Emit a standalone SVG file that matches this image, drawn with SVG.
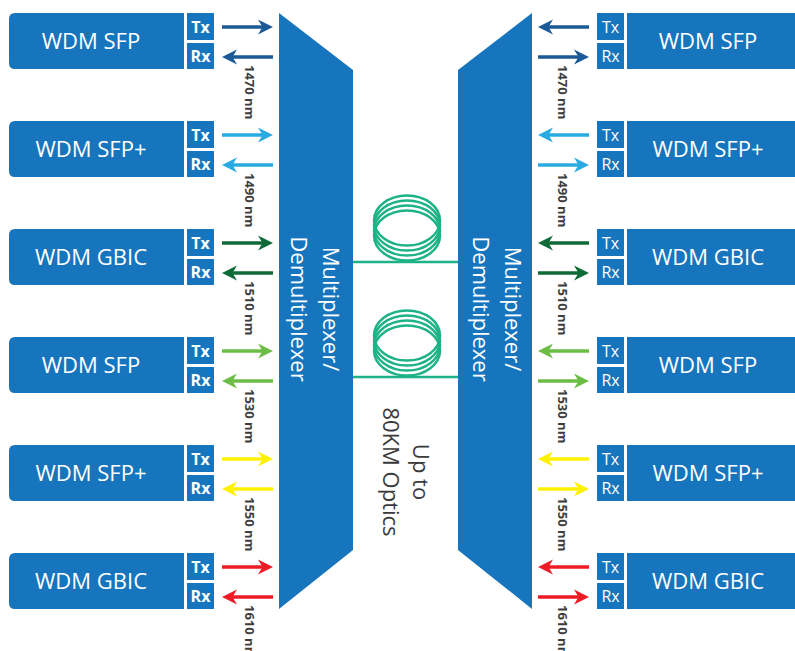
<svg xmlns="http://www.w3.org/2000/svg" width="795" height="651" viewBox="0 0 795 651">
<style>
.blue{fill:#1675bc}
.name{font-family:"Open Sans","Liberation Sans",sans-serif;font-size:22px;fill:#ffffff;text-anchor:middle}
.txl{font-family:"Open Sans","Liberation Sans",sans-serif;font-size:16px;font-weight:bold;fill:#ffffff;text-anchor:middle}
.txr{font-family:"Open Sans","Liberation Sans",sans-serif;font-size:16px;fill:#ffffff;text-anchor:middle}
.wl{font-family:"Open Sans","Liberation Sans",sans-serif;font-size:13px;font-weight:bold;fill:#3d3d3d}
.mux{font-family:"Open Sans","Liberation Sans",sans-serif;font-size:22px;fill:#ffffff;text-anchor:middle}
.dist{font-family:"Open Sans","Liberation Sans",sans-serif;font-size:22px;fill:#3a3a3a;text-anchor:middle}
.coil{fill:none;stroke:#1db386;stroke-width:2.5}
.shaft{stroke-width:3.5;fill:none}
.c1{stroke:#1b5a96;fill:#1b5a96}
.c2{stroke:#29abe2;fill:#29abe2}
.c3{stroke:#0e6b37;fill:#0e6b37}
.c4{stroke:#6cbd45;fill:#6cbd45}
.c5{stroke:#fff200;fill:#fff200}
.c6{stroke:#ed1c24;fill:#ed1c24}
</style>
<defs>
<path id="ahR" d="M0,0 L-15,-7.5 L-10.5,0 L-15,7.5 Z" stroke="none"/>
<path id="ahL" d="M0,0 L15,-7.5 L10.5,0 L15,7.5 Z" stroke="none"/>
</defs>

<g id="mux-left">
<polygon class="blue" points="279,13 353,70 353,550 279,609"/>
<text class="mux" transform="translate(323,309) rotate(90)">Multiplexer/</text>
<text class="mux" transform="translate(291,309) rotate(90)">Demultiplexer</text>
</g>
<g id="mux-right">
<polygon class="blue" points="532,13 458,70 458,550 532,609"/>
<text class="mux" transform="translate(505,309) rotate(90)">Multiplexer/</text>
<text class="mux" transform="translate(473,309) rotate(90)">Demultiplexer</text>
</g>

<g id="fiber1">
<ellipse class="coil" cx="407" cy="220.5" rx="33" ry="25"/>
<ellipse class="coil" cx="407" cy="225.5" rx="33" ry="25"/>
<ellipse class="coil" cx="407" cy="230.5" rx="33" ry="25"/>
<ellipse class="coil" cx="407" cy="235.5" rx="33" ry="25"/>
</g>
<g id="fiber2">
<ellipse class="coil" cx="407" cy="335.5" rx="33" ry="25"/>
<ellipse class="coil" cx="407" cy="340.5" rx="33" ry="25"/>
<ellipse class="coil" cx="407" cy="345.5" rx="33" ry="25"/>
<ellipse class="coil" cx="407" cy="350.5" rx="33" ry="25"/>
</g>
<g id="distance">
<text class="dist" transform="translate(413,472) rotate(90)">Up to</text>
<text class="dist" transform="translate(383,472) rotate(90)">80KM Optics</text>
</g>

<g id="left-1">
<path class="blue" d="M15,13 H184 V69 H15 Q9,69 9,63 V19 Q9,13 15,13 Z"/>
<text class="name" x="91" y="49">WDM SFP</text>
<rect class="blue" x="187" y="13" width="27" height="27"/><text class="txl" x="200.5" y="33">Tx</text>
<rect class="blue" x="187" y="43" width="27" height="26"/><text class="txl" x="200.5" y="62">Rx</text>
</g>
<g id="left-2">
<path class="blue" d="M15,121 H184 V177 H15 Q9,177 9,171 V127 Q9,121 15,121 Z"/>
<text class="name" x="91" y="157">WDM SFP+</text>
<rect class="blue" x="187" y="121" width="27" height="27"/><text class="txl" x="200.5" y="141">Tx</text>
<rect class="blue" x="187" y="151" width="27" height="26"/><text class="txl" x="200.5" y="170">Rx</text>
</g>
<g id="left-3">
<path class="blue" d="M15,229 H184 V285 H15 Q9,285 9,279 V235 Q9,229 15,229 Z"/>
<text class="name" x="91" y="265">WDM GBIC</text>
<rect class="blue" x="187" y="229" width="27" height="27"/><text class="txl" x="200.5" y="249">Tx</text>
<rect class="blue" x="187" y="259" width="27" height="26"/><text class="txl" x="200.5" y="278">Rx</text>
</g>
<g id="left-4">
<path class="blue" d="M15,337 H184 V393 H15 Q9,393 9,387 V343 Q9,337 15,337 Z"/>
<text class="name" x="91" y="373">WDM SFP</text>
<rect class="blue" x="187" y="337" width="27" height="27"/><text class="txl" x="200.5" y="357">Tx</text>
<rect class="blue" x="187" y="367" width="27" height="26"/><text class="txl" x="200.5" y="386">Rx</text>
</g>
<g id="left-5">
<path class="blue" d="M15,445 H184 V501 H15 Q9,501 9,495 V451 Q9,445 15,445 Z"/>
<text class="name" x="91" y="481">WDM SFP+</text>
<rect class="blue" x="187" y="445" width="27" height="27"/><text class="txl" x="200.5" y="465">Tx</text>
<rect class="blue" x="187" y="475" width="27" height="26"/><text class="txl" x="200.5" y="494">Rx</text>
</g>
<g id="left-6">
<path class="blue" d="M15,553 H184 V609 H15 Q9,609 9,603 V559 Q9,553 15,553 Z"/>
<text class="name" x="91" y="589">WDM GBIC</text>
<rect class="blue" x="187" y="553" width="27" height="27"/><text class="txl" x="200.5" y="573">Tx</text>
<rect class="blue" x="187" y="583" width="27" height="26"/><text class="txl" x="200.5" y="602">Rx</text>
</g>

<g id="right-1">
<rect class="blue" x="627" y="13" width="168" height="56"/>
<text class="name" x="708" y="49">WDM SFP</text>
<rect class="blue" x="597" y="13" width="27" height="27"/><text class="txr" x="610.5" y="33">Tx</text>
<rect class="blue" x="597" y="43" width="27" height="26"/><text class="txr" x="610.5" y="62">Rx</text>
</g>
<g id="right-2">
<rect class="blue" x="627" y="121" width="168" height="56"/>
<text class="name" x="708" y="157">WDM SFP+</text>
<rect class="blue" x="597" y="121" width="27" height="27"/><text class="txr" x="610.5" y="141">Tx</text>
<rect class="blue" x="597" y="151" width="27" height="26"/><text class="txr" x="610.5" y="170">Rx</text>
</g>
<g id="right-3">
<rect class="blue" x="627" y="229" width="168" height="56"/>
<text class="name" x="708" y="265">WDM GBIC</text>
<rect class="blue" x="597" y="229" width="27" height="27"/><text class="txr" x="610.5" y="249">Tx</text>
<rect class="blue" x="597" y="259" width="27" height="26"/><text class="txr" x="610.5" y="278">Rx</text>
</g>
<g id="right-4">
<rect class="blue" x="627" y="337" width="168" height="56"/>
<text class="name" x="708" y="373">WDM SFP</text>
<rect class="blue" x="597" y="337" width="27" height="27"/><text class="txr" x="610.5" y="357">Tx</text>
<rect class="blue" x="597" y="367" width="27" height="26"/><text class="txr" x="610.5" y="386">Rx</text>
</g>
<g id="right-5">
<rect class="blue" x="627" y="445" width="168" height="56"/>
<text class="name" x="708" y="481">WDM SFP+</text>
<rect class="blue" x="597" y="445" width="27" height="27"/><text class="txr" x="610.5" y="465">Tx</text>
<rect class="blue" x="597" y="475" width="27" height="26"/><text class="txr" x="610.5" y="494">Rx</text>
</g>
<g id="right-6">
<rect class="blue" x="627" y="553" width="168" height="56"/>
<text class="name" x="708" y="589">WDM GBIC</text>
<rect class="blue" x="597" y="553" width="27" height="27"/><text class="txr" x="610.5" y="573">Tx</text>
<rect class="blue" x="597" y="583" width="27" height="26"/><text class="txr" x="610.5" y="602">Rx</text>
</g>

<g id="connectors">
<line x1="353" y1="262" x2="458" y2="262" class="coil"/>
<line x1="353" y1="377" x2="458" y2="377" class="coil"/>

<g class="c1">
<line class="shaft" x1="222" y1="27" x2="264" y2="27"/><use href="#ahR" x="273" y="27"/>
<line class="shaft" x1="231" y1="57" x2="273" y2="57"/><use href="#ahL" x="222" y="57"/>
<line class="shaft" x1="547" y1="27" x2="589" y2="27"/><use href="#ahL" x="538" y="27"/>
<line class="shaft" x1="538" y1="57" x2="580" y2="57"/><use href="#ahR" x="589" y="57"/>
</g>
<g class="c2">
<line class="shaft" x1="222" y1="135" x2="264" y2="135"/><use href="#ahR" x="273" y="135"/>
<line class="shaft" x1="231" y1="165" x2="273" y2="165"/><use href="#ahL" x="222" y="165"/>
<line class="shaft" x1="547" y1="135" x2="589" y2="135"/><use href="#ahL" x="538" y="135"/>
<line class="shaft" x1="538" y1="165" x2="580" y2="165"/><use href="#ahR" x="589" y="165"/>
</g>
<g class="c3">
<line class="shaft" x1="222" y1="243" x2="264" y2="243"/><use href="#ahR" x="273" y="243"/>
<line class="shaft" x1="231" y1="273" x2="273" y2="273"/><use href="#ahL" x="222" y="273"/>
<line class="shaft" x1="547" y1="243" x2="589" y2="243"/><use href="#ahL" x="538" y="243"/>
<line class="shaft" x1="538" y1="273" x2="580" y2="273"/><use href="#ahR" x="589" y="273"/>
</g>
<g class="c4">
<line class="shaft" x1="222" y1="351" x2="264" y2="351"/><use href="#ahR" x="273" y="351"/>
<line class="shaft" x1="231" y1="381" x2="273" y2="381"/><use href="#ahL" x="222" y="381"/>
<line class="shaft" x1="547" y1="351" x2="589" y2="351"/><use href="#ahL" x="538" y="351"/>
<line class="shaft" x1="538" y1="381" x2="580" y2="381"/><use href="#ahR" x="589" y="381"/>
</g>
<g class="c5">
<line class="shaft" x1="222" y1="459" x2="264" y2="459"/><use href="#ahR" x="273" y="459"/>
<line class="shaft" x1="231" y1="489" x2="273" y2="489"/><use href="#ahL" x="222" y="489"/>
<line class="shaft" x1="547" y1="459" x2="589" y2="459"/><use href="#ahL" x="538" y="459"/>
<line class="shaft" x1="538" y1="489" x2="580" y2="489"/><use href="#ahR" x="589" y="489"/>
</g>
<g class="c6">
<line class="shaft" x1="222" y1="567" x2="264" y2="567"/><use href="#ahR" x="273" y="567"/>
<line class="shaft" x1="231" y1="597" x2="273" y2="597"/><use href="#ahL" x="222" y="597"/>
<line class="shaft" x1="547" y1="567" x2="589" y2="567"/><use href="#ahL" x="538" y="567"/>
<line class="shaft" x1="538" y1="597" x2="580" y2="597"/><use href="#ahR" x="589" y="597"/>
</g>
</g>

<g id="wavelengths">
<text class="wl" transform="translate(245,65) rotate(90)">1470 nm</text>
<text class="wl" transform="translate(245,173) rotate(90)">1490 nm</text>
<text class="wl" transform="translate(245,281) rotate(90)">1510 nm</text>
<text class="wl" transform="translate(245,389) rotate(90)">1530 nm</text>
<text class="wl" transform="translate(245,497) rotate(90)">1550 nm</text>
<text class="wl" transform="translate(245,605) rotate(90)">1610 nm</text>
<text class="wl" transform="translate(558,65) rotate(90)">1470 nm</text>
<text class="wl" transform="translate(558,173) rotate(90)">1490 nm</text>
<text class="wl" transform="translate(558,281) rotate(90)">1510 nm</text>
<text class="wl" transform="translate(558,389) rotate(90)">1530 nm</text>
<text class="wl" transform="translate(558,497) rotate(90)">1550 nm</text>
<text class="wl" transform="translate(558,605) rotate(90)">1610 nm</text>
</g>
</svg>
